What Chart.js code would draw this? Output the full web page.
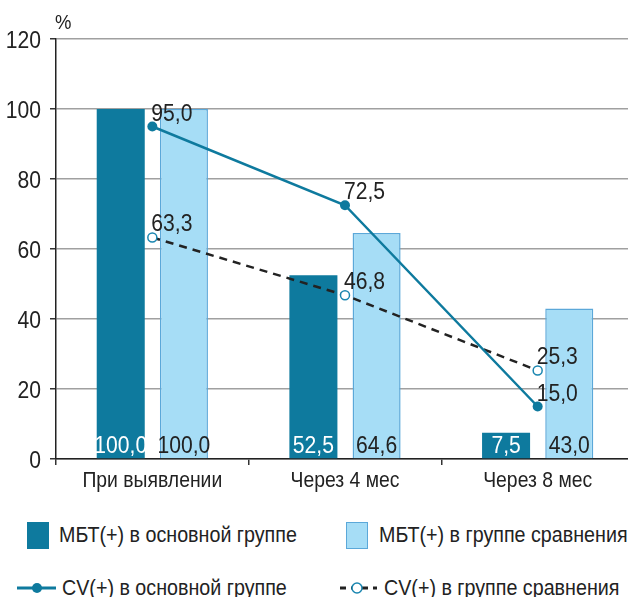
<!DOCTYPE html>
<html>
<head>
<meta charset="utf-8">
<script src="https://cdn.jsdelivr.net/npm/chart.js@4/dist/chart.umd.min.js"></script>
<style>
  html, body { margin: 0; padding: 0; background: #fff; overflow: hidden; }
  #wrap { position: relative; width: 628px; height: 597px; overflow: hidden; }
  #myChart { position: absolute; left: 0; top: 0; }
  .lg { position: absolute; font: 22px 'Liberation Sans', Arial, sans-serif; color: #222; line-height: 24px;
        white-space: nowrap; transform: scaleX(0.895); transform-origin: left center; }
  .sq { position: absolute; width: 22px; height: 27px; box-sizing: border-box; }
</style>
</head>
<body>
<div id="wrap">
  <canvas id="myChart" width="640" height="500"></canvas>

  <div class="sq" style="left:27px;top:522px;background:#0e7a9e;"></div>
  <div class="lg" style="left:59px;top:523px;">МБТ(+) в основной группе</div>
  <div class="sq" style="left:346px;top:522px;background:#a6ddf6;border:1.5px solid #5ba8d9;"></div>
  <div class="lg" style="left:379px;top:523px;">МБТ(+) в группе сравнения</div>

  <svg style="position:absolute;left:0;top:575px" width="628" height="26">
    <line x1="17" y1="13" x2="56" y2="13" stroke="#0e7a9e" stroke-width="3"/>
    <circle cx="37" cy="13" r="5" fill="#0e7a9e"/>
    <line x1="340" y1="13" x2="377" y2="13" stroke="#222" stroke-width="3" stroke-dasharray="6,5"/>
    <circle cx="357" cy="13" r="5" fill="#fff" stroke="#1a86b0" stroke-width="1.5"/>
  </svg>
  <div class="lg" style="left:62px;top:576px;">CV(+) в основной группе</div>
  <div class="lg" style="left:384px;top:576px;">CV(+) в группе сравнения</div>
</div>
<script>
const categories = ['При выявлении', 'Через 4 мес', 'Через 8 мес'];
const mbtMain = [100.0, 52.5, 7.5];
const mbtCompare = [100.0, 64.6, 43.0];
const cvMain = [95.0, 72.5, 15.0];
const cvCompare = [63.3, 46.8, 25.3];
const yTicks = [0, 20, 40, 60, 80, 100, 120];

const FONT = "'Liberation Sans', Arial, sans-serif";
const NARROW = 0.88; // the original uses a condensed face
const fmt = v => v.toFixed(1).replace('.', ',');

function narrowText(ctx, txt, x, y, align, size, color) {
    ctx.save();
    ctx.font = size + 'px ' + FONT;
    ctx.fillStyle = color;
    ctx.textAlign = align;
    ctx.textBaseline = 'alphabetic';
    ctx.translate(x, y);
    ctx.scale(NARROW, 1);
    ctx.fillText(txt, 0, 0);
    ctx.restore();
}

// tick labels, value labels and the "%" unit, all in a condensed look
const textPlugin = {
    id: 'narrowText',
    afterDraw(chart) {
        const ctx = chart.ctx;
        const xs = chart.scales.x, ys = chart.scales.y;
        const y0 = ys.getPixelForValue(0);

        ys.ticks.forEach((t, i) => {
            narrowText(ctx, String(t.value), ys.right - 15, ys.getPixelForTick(i) + 8.5, 'right', 24, '#222');
        });
        categories.forEach((c, i) => {
            narrowText(ctx, c, xs.getPixelForTick(i), xs.top + 28, 'center', 22, '#222');
        });

        chart.data.datasets.forEach((ds, i) => {
            const meta = chart.getDatasetMeta(i);
            meta.data.forEach((el, j) => {
                const txt = fmt(ds.data[j]);
                if (ds.type === 'bar') {
                    narrowText(ctx, txt, el.x, y0 - 6.5, 'center', 24, ds.labelColor);
                } else {
                    narrowText(ctx, txt, el.x - 1, el.y - 6, 'left', 24, '#222');
                }
            });
        });
        narrowText(ctx, '%', chart.chartArea.left - 1, 29, 'left', 21, '#222');
    }
};

new Chart(document.getElementById('myChart'), {
    data: {
        labels: categories,
        datasets: [
            {
                type: 'line',
                label: 'CV(+) в основной группе',
                data: cvMain,
                borderColor: '#0e7a9e',
                backgroundColor: '#0e7a9e',
                borderWidth: 2.5,
                pointRadius: 5,
                pointBorderWidth: 0,
                order: 0
            },
            {
                type: 'line',
                label: 'CV(+) в группе сравнения',
                data: cvCompare,
                borderColor: '#222',
                borderWidth: 2.5,
                borderDash: [8, 6],
                pointRadius: 4.5,
                pointBackgroundColor: '#fff',
                pointBorderColor: '#1a86b0',
                pointBorderWidth: 1.5,
                order: 0
            },
            {
                type: 'bar',
                label: 'МБТ(+) в основной группе',
                data: mbtMain,
                backgroundColor: '#0e7a9e',
                borderWidth: 0,
                labelColor: '#fff',
                categoryPercentage: 0.656,
                barPercentage: 0.76,
                order: 1
            },
            {
                type: 'bar',
                label: 'МБТ(+) в группе сравнения',
                data: mbtCompare,
                backgroundColor: '#a6ddf6',
                borderColor: '#5ba8d9',
                borderWidth: 1.5,
                labelColor: '#222',
                categoryPercentage: 0.656,
                barPercentage: 0.76,
                order: 1
            }
        ]
    },
    options: {
        responsive: false,
        animation: false,
        layout: { padding: { top: 39, right: 5, left: 0, bottom: 0 } },
        plugins: { legend: { display: false }, tooltip: { enabled: false } },
        scales: {
            x: {
                grid: { drawOnChartArea: false, tickLength: 6, tickColor: '#333', lineWidth: 1.5 },
                border: { color: '#222', width: 1.5 },
                ticks: { display: false },
                afterFit(scale) { scale.height = 41; }
            },
            y: {
                min: 0,
                max: 120,
                afterBuildTicks(scale) { scale.ticks = yTicks.map(v => ({ value: v })); },
                grid: { color: '#a0a0a0', lineWidth: 1.5, tickLength: 6, tickColor: '#333' },
                border: { color: '#222', width: 1.5 },
                ticks: { display: false },
                afterFit(scale) { scale.width = 56; }
            }
        }
    },
    plugins: [textPlugin]
});
</script>
</body>
</html>
